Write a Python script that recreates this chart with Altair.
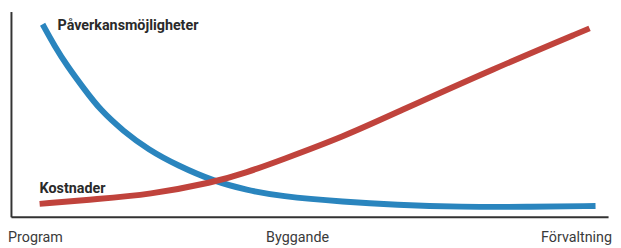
import altair as alt
import pandas as pd

# Curves (relative scale 0-100 on both axes)
blue_x = [5.3, 7.3, 9.4, 12.2, 15.0, 18.8, 23.0, 27.9, 34.0, 39.5, 44.9, 56.0, 64.3, 75.4, 86.3, 97.9]
blue_y = [93.8, 83.2, 73.6, 62.5, 51.9, 41.8, 32.7, 25.0, 17.3, 13.0, 10.1, 7.2, 5.8, 4.8, 4.8, 5.3]
red_x = [4.8, 14.7, 23.0, 34.0, 39.5, 45.0, 56.0, 64.3, 80.8, 96.9]
red_y = [6.3, 8.7, 10.8, 16.8, 21.6, 27.4, 39.4, 50.5, 72.1, 91.8]

series = ["Påverkansmöjligheter", "Kostnader"]
series_colors = ["#2a85be", "#c0433c"]
label_x = [7.8, 4.8]
label_y = [92.8, 13.5]

phases = ["Program", "Byggande", "Förvaltning"]
phase_x = [0, 48, 100]

lines = pd.DataFrame(
    [{"x": a, "y": b, "s": series[0], "o": i} for i, (a, b) in enumerate(zip(blue_x, blue_y))]
    + [{"x": a, "y": b, "s": series[1], "o": i} for i, (a, b) in enumerate(zip(red_x, red_y))]
)
labels = pd.DataFrame({"s": series, "x": label_x, "y": label_y})
ph = pd.DataFrame({"p": phases, "x": phase_x})

xs = alt.Scale(domain=[0, 100], nice=False, zero=False)
ys = alt.Scale(domain=[0, 100], nice=False, zero=False)
color = alt.Color("s:N", scale=alt.Scale(domain=series, range=series_colors), legend=None)

line = alt.Chart(lines).mark_line(strokeWidth=6, interpolate="basis", strokeCap="butt").encode(
    x=alt.X("x:Q", scale=xs, axis=alt.Axis(labels=False, ticks=False, grid=False, title=None,
                                             domainColor="#333333", domainWidth=2)),
    y=alt.Y("y:Q", scale=ys, axis=alt.Axis(labels=False, ticks=False, grid=False, title=None,
                                             domainColor="#333333", domainWidth=2)),
    color=color,
    detail="s:N",
    order="o:Q",
)

txt = alt.Chart(labels).mark_text(align="left", baseline="middle", font="Roboto", fontWeight="bold",
                                  fontSize=14.5, color="#2a2a2a").encode(
    x=alt.X("x:Q", scale=xs), y=alt.Y("y:Q", scale=ys), text="s:N")

base_ph = alt.Chart(ph)
p1 = base_ph.transform_filter(alt.datum.p == phases[0]).mark_text(
    align="left", dx=-3, baseline="middle", font="Roboto", fontSize=14.5, color="#3a3a3a").encode(
    x=alt.X("x:Q", scale=xs), y=alt.value(230), text="p:N")
p2 = base_ph.transform_filter(alt.datum.p == phases[1]).mark_text(
    align="center", baseline="middle", font="Roboto", fontSize=14.5, color="#3a3a3a").encode(
    x=alt.X("x:Q", scale=xs), y=alt.value(230), text="p:N")
p3 = base_ph.transform_filter(alt.datum.p == phases[2]).mark_text(
    align="right", dx=4, baseline="middle", font="Roboto", fontSize=14.5, color="#3a3a3a").encode(
    x=alt.X("x:Q", scale=xs), y=alt.value(230), text="p:N")

chart = alt.layer(line, txt, p1, p2, p3).properties(
    width=605, height=208,
    padding={"left": 3, "top": 2, "right": 5, "bottom": 30},
    autosize=alt.AutoSizeParams(type="none"),
    background="white",
).configure_view(stroke=None)

chart.save("out.html", embed_options={"renderer": "svg", "actions": False})
